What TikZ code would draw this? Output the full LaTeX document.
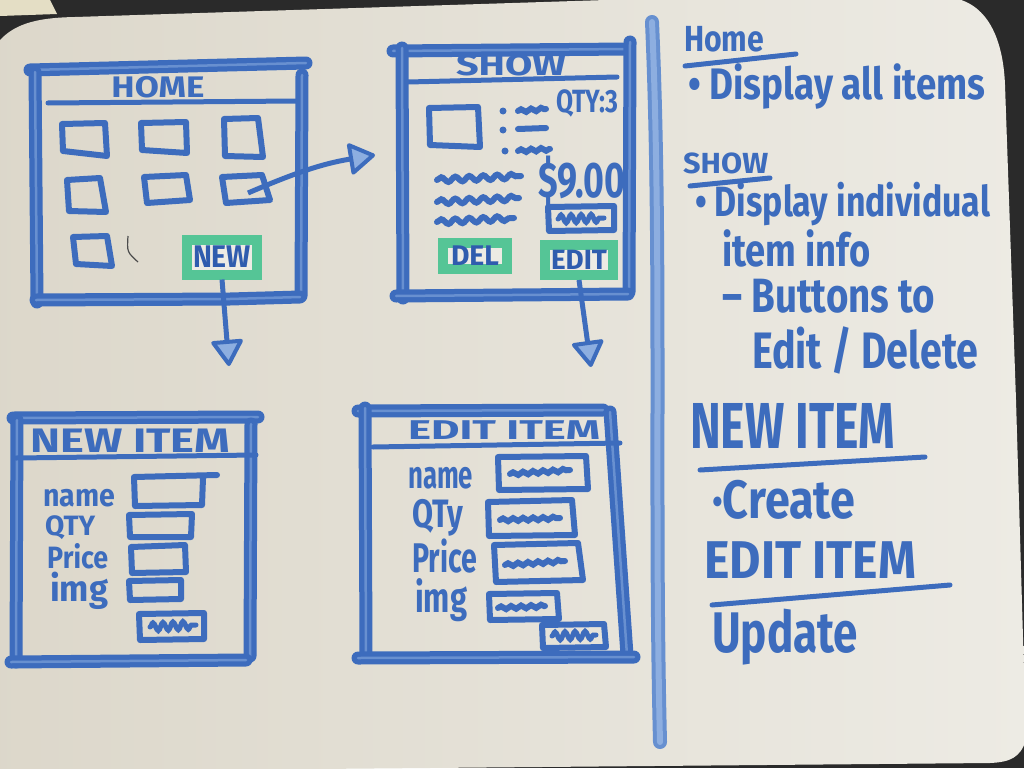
\documentclass[tikz,border=0pt]{standalone}
\usepackage{graphicx}
\usepackage{fontspec}
\setmainfont{Fira Sans}
\usetikzlibrary{arrows.meta,decorations.pathmorphing}

\definecolor{ink}{HTML}{3D6CBD}
\definecolor{inkdk}{HTML}{2F5CAE}
\definecolor{inklt}{HTML}{8DAEE0}
\definecolor{inkmid}{HTML}{6790D0}
\definecolor{mint}{HTML}{55C596}
\definecolor{boardlt}{HTML}{EDEBE4}
\definecolor{boarddk}{HTML}{DCD7CA}
\definecolor{bg}{HTML}{2A2A2A}
\definecolor{paper}{HTML}{E4DEC5}

% marker lettering: stretched vertically, then fitted to a given width
\newcommand{\hw}[3][1.2]{\resizebox{#2}{!}{\scalebox{1}[#1]{#3}}}

\tikzset{
  frame/.style={draw=ink, line width=13, line cap=round, line join=round,
    postaction={draw=inklt, line width=2.5, opacity=.55}},
  rule/.style={draw=ink, line width=5, line cap=round},
  box/.style={draw=ink, line width=6, line cap=round, line join=round},
  wavy/.style={draw=ink, line width=6, line cap=round,
    decorate, decoration={snake, amplitude=2.5, segment length=14}},
  scribble/.style={draw=ink, line width=5, line cap=round,
    decorate, decoration={snake, amplitude=4, segment length=10}},
  hand/.style={text=ink, inner sep=0, font=\bfseries},
  btn/.style={draw=mint, line width=10, fill=boardlt, inner sep=0, text=inkdk, font=\bfseries},
  arr/.style={draw=ink, line width=5,
    -{Triangle[length=28, width=34, fill=inklt, line width=4, round]}},
  divider/.style={draw=inkmid, line width=4, double=inklt, double distance=6, line cap=round},
}

\begin{document}
\begin{tikzpicture}[x=1pt,y=-1pt]
\useasboundingbox (0,0) rectangle (1024,768);

% desk and whiteboard
\fill[bg] (0,0) rectangle (1024,768);
\fill[paper] (0,0) -- (50,0) -- (57,14) -- (0,16) -- cycle;
\shade[left color=boarddk, right color=boardlt]
  (-20,78) .. controls (-5,30) and (20,18) .. (75,17) -- (700,-3) -- (945,-3)
  .. controls (985,-1) and (1003,35) .. (1005,85) -- (1016,400) -- (1026,740)
  .. controls (1020,758) and (1010,762) .. (990,763) -- (-20,772) -- cycle;

% ---------- HOME screen ----------
\draw[frame] (30,70) -- (306,63);
\draw[frame] (35,72) -- (37,302);
\draw[frame] (302,75) -- (301,296);
\draw[frame] (36,300) -- (230,299) -- (300,297);
\draw[rule] (48,103) -- (297,101);
\node[hand, anchor=base] (hometitle) at (158,97) {\hw[0.85]{93pt}{HOME}};

\draw[box] (62,124) -- (105,123) -- (107,156) -- (63,151) -- cycle;
\draw[box] (141,123) -- (186,122) -- (187,153) -- (142,150) -- cycle;
\draw[box] (224,119) -- (258,118) -- (263,157) -- (225,156) -- cycle;
\draw[box] (67,180) -- (100,178) -- (106,212) -- (69,211) -- cycle;
\draw[box] (144,177) -- (186,175) -- (190,200) -- (147,203) -- cycle;
\draw[box] (222,177) -- (262,175) -- (270,200) -- (226,203) -- cycle;
\draw[box] (73,237) -- (107,236) -- (112,266) -- (76,264) -- cycle;
\draw[draw=black!70, line width=1.2] (128,236) .. controls (127,252) .. (138,262);
\coordinate (tile) at (248,193);

\node[btn, minimum width=70, minimum height=35] (newbtn) at (222,257) {\hw[1.1]{58pt}{NEW}};

% ---------- SHOW screen ----------
\draw[frame] (393,51) -- (628,49);
\draw[frame] (402,48) -- (403,298);
\draw[frame] (630,42) -- (629,292);
\draw[frame] (396,296) -- (628,294);
\draw[rule] (408,82) -- (617,77);
\node[hand, anchor=base] (showtitle) at (511,75) {\hw[0.75]{110pt}{SHOW}};

\draw[box] (429,108) -- (478,107) -- (480,147) -- (430,145) -- cycle;
\fill[ink] (503,111) circle (3.5) (503,130) circle (3.5) (505,151) circle (3.5);
\draw[wavy, decoration={amplitude=1.5, segment length=10}] (518,111) -- (546,109);
\draw[rule, line width=6] (518,129) -- (546,128);
\draw[wavy, decoration={amplitude=1.5, segment length=10}] (518,151) -- (550,149);
\node[hand, anchor=base west] (qty) at (556,112) {\hw[1.3]{62pt}{QTY:3}};

\draw[wavy] (437,180) -- (521,176);
\draw[wavy] (437,202) -- (519,198);
\draw[wavy] (437,222) -- (514,218);
\node[hand, anchor=base west] (price) at (538,197) {\hw[1.4]{87pt}{\$9.00}};

\draw[box] (548,207) -- (614,206) -- (614,230) -- (549,231) -- cycle;
\draw[scribble] (558,219) -- (604,218);

\node[btn, minimum width=64, minimum height=26] (delbtn) at (475,256) {\hw[1]{48pt}{DEL}};
\node[btn, minimum width=68, minimum height=30] (editbtn) at (579,260) {\hw[1]{56pt}{EDIT}};

% ---------- NEW ITEM screen ----------
\draw[frame] (13,418) -- (258,417);
\draw[frame] (17,420) -- (16,662);
\draw[frame] (251,424) -- (250,656);
\draw[frame] (11,662) -- (246,660);
\draw[rule] (16,458) -- (256,455);
\node[hand, anchor=base west] (newtitle) at (30,452) {\hw[0.75]{200pt}{NEW ITEM}};

\node[hand, anchor=base west] (nname) at (43,506) {\hw[1.1]{72pt}{name}};
\node[hand, anchor=base west] (nqty) at (45,535) {\hw[1.0]{50pt}{QTY}};
\node[hand, anchor=base west] (nprice) at (47,568) {\hw[1.15]{61pt}{Price}};
\node[hand, anchor=base west] (nimg) at (50,601) {\hw[1.05]{58pt}{img}};

\draw[box] (217,475) -- (134,477) -- (135,506) -- (202,505) -- (203,478);
\draw[box] (129,515) -- (192,514) -- (191,537) -- (130,537) -- cycle;
\draw[box] (131,547) -- (185,545) -- (186,572) -- (132,573) -- cycle;
\draw[box] (129,581) -- (181,580) -- (181,599) -- (130,600) -- cycle;
\draw[box] (139,614) -- (204,613) -- (204,639) -- (140,640) -- cycle;
\draw[scribble] (150,627) -- (196,625);

% ---------- EDIT ITEM screen ----------
\draw[frame] (358,411) -- (603,410);
\draw[frame] (365,408) -- (366,655);
\draw[frame] (610,412) -- (627,655);
\draw[frame] (358,658) -- (634,657);
\draw[rule] (373,447) -- (620,443);
\node[hand, anchor=base west] (edittitle) at (408,439) {\hw[0.62]{192pt}{EDIT ITEM}};

\node[hand, anchor=base west] (ename) at (408,488) {\hw[1.5]{65pt}{name}};
\node[hand, anchor=base west] (eqty) at (412,527) {\hw[1.3]{51pt}{QTy}};
\node[hand, anchor=base west] (eprice) at (412,572) {\hw[1.45]{65pt}{Price}};
\node[hand, anchor=base west] (eimg) at (415,612) {\hw[1.35]{52pt}{img}};

\draw[box] (498,457) -- (586,456) -- (588,489) -- (499,490) -- cycle;
\draw[wavy, decoration={amplitude=1.5, segment length=10}] (510,474) -- (570,470);
\draw[box] (488,502) -- (572,500) -- (575,535) -- (489,536) -- cycle;
\draw[wavy, decoration={amplitude=1.5, segment length=10}] (500,520) -- (560,518);
\draw[box] (494,545) -- (578,543) -- (583,580) -- (496,582) -- cycle;
\draw[wavy, decoration={amplitude=1.5, segment length=10}] (505,565) -- (565,561);
\draw[box] (489,594) -- (557,593) -- (559,619) -- (490,620) -- cycle;
\draw[wavy, decoration={amplitude=1.5, segment length=10}] (498,608) -- (545,606);
\draw[box] (542,625) -- (604,624) -- (606,647) -- (543,648) -- cycle;
\draw[scribble] (552,636) -- (596,635);

% ---------- navigation arrows ----------
\coordinate (tipA) at (375,155);
\coordinate (tipN) at (229,366);
\coordinate (tipE) at (591,367);
\draw[arr] (tile) .. controls (290,175) and (320,164) .. (tipA);
\draw[arr] (newbtn.south) -- (tipN);
\draw[arr] (editbtn.south) -- (tipE);

% ---------- divider ----------
\coordinate (divtop) at (652,22);
\coordinate (divbot) at (660,742);
\draw[divider] (divtop) .. controls (662,250) and (654,500) .. (divbot);

% ---------- notes ----------
\node[hand, anchor=base west] (nhome) at (684,52) {\hw[1.2]{80pt}{Home}};
\draw[rule] (685,66) -- (796,54);
\node[hand, anchor=base west] (nhome1) at (688,99) {\hw[1.2]{297pt}{• Display all items}};

\node[hand, anchor=base west] (nshow) at (683,173) {\hw[0.95]{85pt}{SHOW}};
\draw[rule] (690,186) -- (770,178);
\node[hand, anchor=base west] (nshow1) at (695,216) {\hw[1.25]{295pt}{• Display individual}};
\node[hand, anchor=base west] (nshow2) at (722,266) {\hw[1.25]{148pt}{item info}};
\node[hand, anchor=base west] (nshow3) at (722,312) {\hw[1.25]{213pt}{– Buttons to}};
\node[hand, anchor=base west] (nshow4) at (752,368) {\hw[1.3]{226pt}{Edit / Delete}};

\node[hand, anchor=base west] (nnew) at (690,448) {\hw[1.4]{205pt}{NEW ITEM}};
\draw[rule] (700,470) -- (925,457);
\node[hand, anchor=base west] (nnew1) at (712,518) {\hw[1.2]{143pt}{·Create}};

\node[hand, anchor=base west] (nedit) at (704,578) {\hw[1.1]{212pt}{EDIT ITEM}};
\draw[rule] (712,605) -- (950,585);
\node[hand, anchor=base west] (nedit1) at (712,652) {\hw[1.3]{146pt}{Update}};
\end{tikzpicture}
\end{document}
